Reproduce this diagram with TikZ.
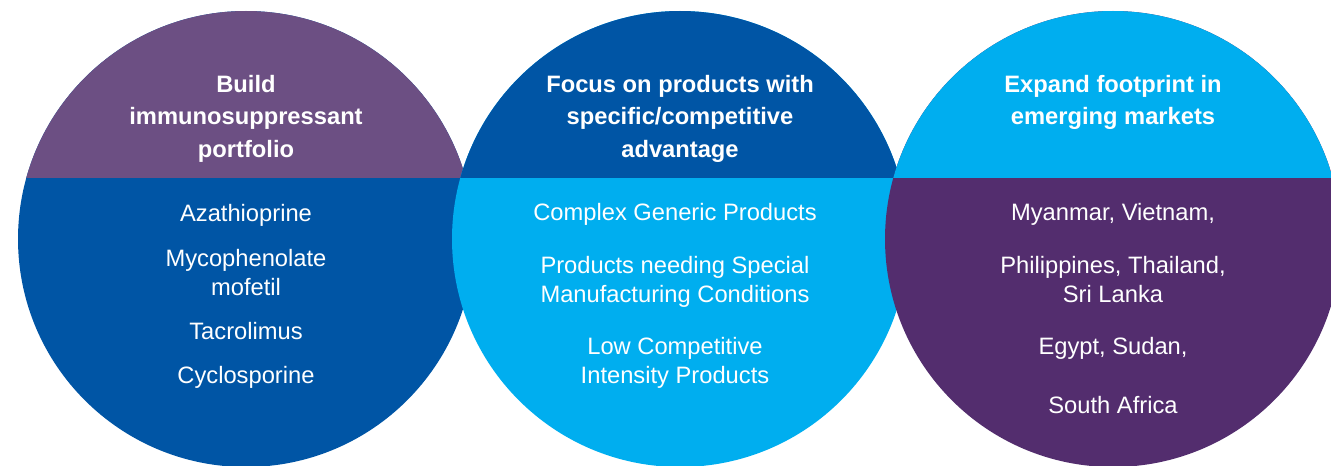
\documentclass[tikz,border=0pt]{standalone}
\usepackage{fontspec}
\setmainfont{Liberation Sans}

\definecolor{pPurple}{HTML}{6C4F83}
\definecolor{pBlue}{HTML}{0055A5}
\definecolor{pCyan}{HTML}{00AEEF}
\definecolor{pPlum}{HTML}{532D6E}

\begin{document}
\begin{tikzpicture}[
    x=0.02cm, y=-0.02cm,
    hNode/.style={text=white, font=\fontsize{13.5}{18.4}\selectfont\bfseries, align=center, anchor=base, inner sep=0pt},
    bNode/.style={text=white, font=\fontsize{13.5}{16.4}\selectfont, align=center, anchor=base, inner sep=0pt}
]
    \useasboundingbox (0,0) rectangle (1331,466);

    \foreach \cx/\ctop/\cbot in {246/pPurple/pBlue, 680/pBlue/pCyan, 1113/pCyan/pPlum} {
        \fill[\cbot] (\cx,239) circle[radius=228];
        \begin{scope}
            \clip (\cx,239) circle[radius=228];
            \fill[\ctop] (\cx-230,0) rectangle (\cx+230,178);
        \end{scope}
    }

    \node[hNode] (buildHead) at (246,157) {Build\\immunosuppressant\\portfolio};
    \node[bNode] (aza) at (246,221) {Azathioprine};
    \node[bNode] (myco) at (246,295) {Mycophenolate\\mofetil};
    \node[bNode] (tacro) at (246,339) {Tacrolimus};
    \node[bNode] (cyclo) at (246,383) {Cyclosporine};

    \node[hNode] (focusHead) at (680,157) {Focus on products with\\specific/competitive\\advantage};
    \node[bNode] (complex) at (675,220.5) {Complex Generic Products};
    \node[bNode] (special) at (675,302) {Products needing Special\\Manufacturing Conditions};
    \node[bNode] (lowComp) at (675,383) {Low Competitive\\Intensity Products};

    \node[hNode] (expandHead) at (1113,124.5) {Expand footprint in\\emerging markets};
    \node[bNode] (myanmar) at (1113,220) {Myanmar, Vietnam,};
    \node[bNode] (phil) at (1113,302) {Philippines, Thailand,\\Sri Lanka};
    \node[bNode] (egypt) at (1113,354) {Egypt, Sudan,};
    \node[bNode] (safrica) at (1113,413) {South Africa};
\end{tikzpicture}
\end{document}
